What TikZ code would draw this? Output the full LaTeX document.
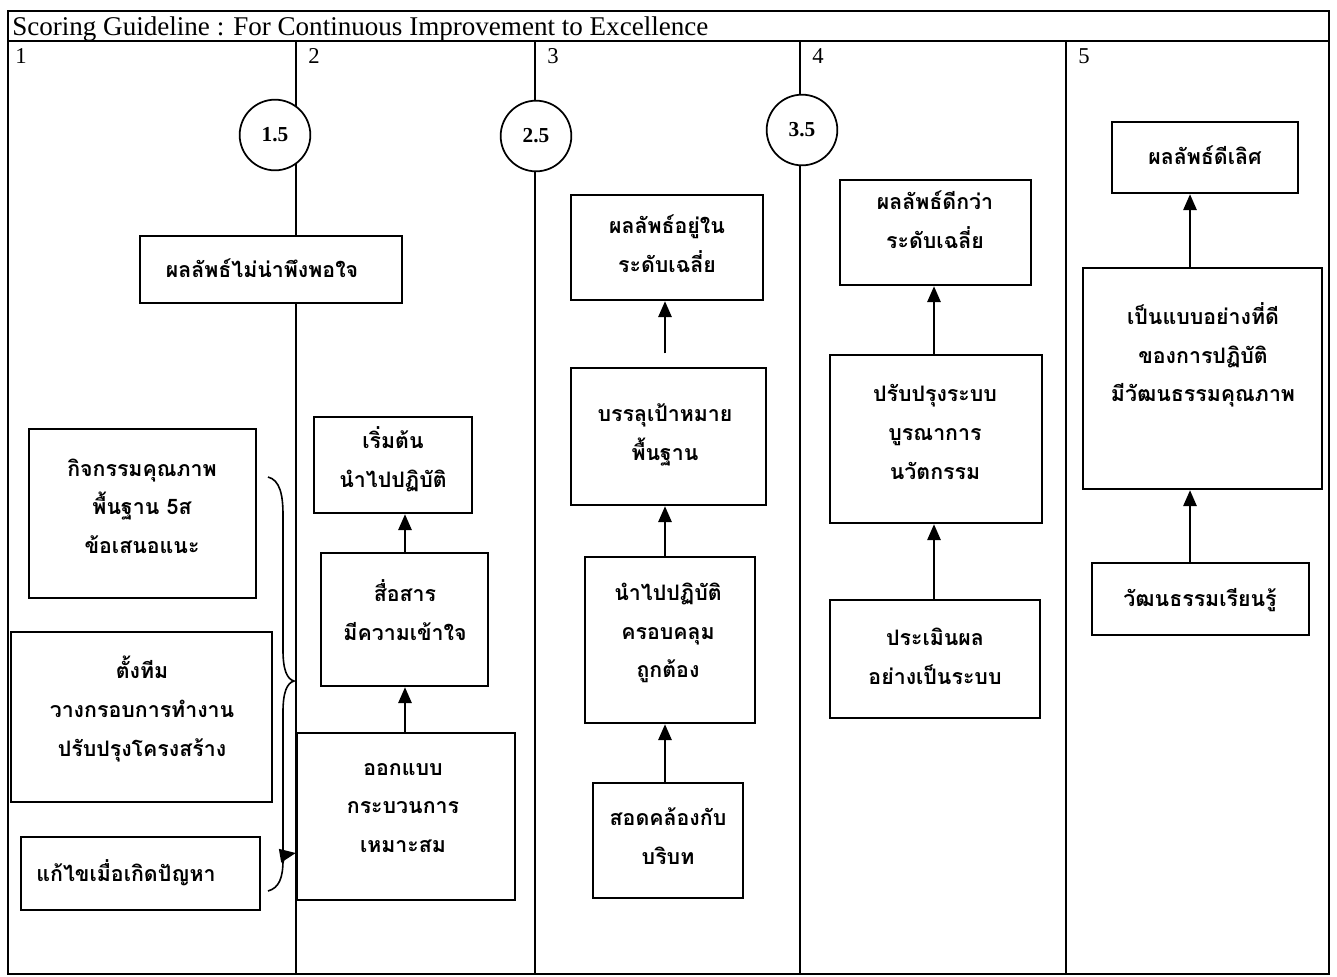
\documentclass[tikz,border=0pt]{standalone}
\usepackage{fontspec}
\setmainfont{Liberation Serif}
\newfontfamily\thai[Script=Thai]{Loma}
\usetikzlibrary{arrows.meta,fit}
\begin{document}
\begin{tikzpicture}[x=0.75pt,y=-0.75pt,
  box/.style={draw, line width=1.8pt, fill=white, inner sep=0pt},
  th/.style={font=\thai\bfseries\fontsize{16}{29}\selectfont, align=center, inner sep=0pt},
  circ/.style={draw, circle, line width=1.3pt, fill=white, minimum size=53pt, inner sep=0pt, font=\fontsize{16}{18}\selectfont\bfseries},
  arr/.style={line width=1.6pt, -{Triangle[length=12pt,width=10pt]}},
  colline/.style={line width=0.8pt},
  num/.style={font=\fontsize{17}{20}\selectfont, anchor=base west, inner sep=0pt}]
\useasboundingbox (0,0) rectangle (1337,976);
\fill[white] (0,0) rectangle (1337,976);
% frame
\draw[line width=1.1pt] (8,11) rectangle (1329,974);
\draw[line width=1.1pt] (8,41) -- (1329,41);
\node[anchor=base west, font=\fontsize{20.3}{24}\selectfont, inner sep=0pt] (title) at (12,35) {Scoring Guideline : For Continuous Improvement to Excellence};
% column lines
\foreach \x in {296,535,800,1066} \draw[colline] (\x,41) -- (\x,974);
\node[num] (n1) at (15,63) {1};
\node[num] (n2) at (308,63) {2};
\node[num] (n3) at (547,63) {3};
\node[num] (n4) at (812,63) {4};
\node[num] (n5) at (1078,63) {5};
% circles
\node[circ] (c15) at (275,135) {1.5};
\node[circ] (c25) at (536,136) {2.5};
\node[circ] (c35) at (802,130) {3.5};
% column 1
\node[box, fit={(140,236) (402,303)}] (b1) {};
\node[th] (t1) at (262,268) {ผลลัพธ์ไม่น่าพึงพอใจ};
\node[box, fit={(29,429) (256,598)}] (b2) {};
\node[th] (t2) at (142,506) {กิจกรรมคุณภาพ\\พื้นฐาน 5ส\\ข้อเสนอแนะ};
\node[box, fit={(11,632) (272,802)}] (b3) {};
\node[th] (t3) at (142,709) {ตั้งทีม\\วางกรอบการทำงาน\\ปรับปรุงโครงสร้าง};
\node[box, fit={(21,837) (260,910)}] (b4) {};
\node[th] (t4) at (126,873) {แก้ไขเมื่อเกิดปัญหา};
% column 2
\node[box, fit={(314,417) (472,513)}] (b5) {};
\node[th] (t5) at (393,459) {เริ่มต้น\\นำไปปฏิบัติ};
\node[box, fit={(321,553) (488,686)}] (b6) {};
\node[th] (t6) at (405,610) {สื่อสาร\\มีความเข้าใจ};
\node[box, fit={(297,733) (515,900)}] (b7) {};
\node[th] (t7) at (403,808) {ออกแบบ\\กระบวนการ\\เหมาะสม};
% column 3
\node[box, fit={(571,195) (763,300)}] (b8) {};
\node[th] (t8) at (667,244) {ผลลัพธ์อยู่ใน\\ระดับเฉลี่ย};
\node[box, fit={(571,368) (766,505)}] (b9) {};
\node[th] (t9) at (665,435) {บรรลุเป้าหมาย\\พื้นฐาน};
\node[box, fit={(585,557) (755,723)}] (b10) {};
\node[th] (t10) at (668,633) {นำไปปฏิบัติ\\ครอบคลุม\\ถูกต้อง};
\node[box, fit={(593,783) (743,898)}] (b11) {};
\node[th] (t11) at (668,836) {สอดคล้องกับ\\บริบท};
% column 4
\node[box, fit={(840,180) (1031,285)}] (b12) {};
\node[th] (t12) at (935,220) {ผลลัพธ์ดีกว่า\\ระดับเฉลี่ย};
\node[box, fit={(830,355) (1042,523)}] (b13) {};
\node[th] (t13) at (935,432) {ปรับปรุงระบบ\\บูรณาการ\\นวัตกรรม};
\node[box, fit={(830,600) (1040,718)}] (b14) {};
\node[th] (t14) at (935,656) {ประเมินผล\\อย่างเป็นระบบ};
% column 5
\node[box, fit={(1112,122) (1298,193)}] (b15) {};
\node[th] (t15) at (1205,155) {ผลลัพธ์ดีเลิศ};
\node[box, fit={(1083,268) (1322,489)}] (b16) {};
\node[th] (t16) at (1203,355) {เป็นแบบอย่างที่ดี\\ของการปฏิบัติ\\มีวัฒนธรรมคุณภาพ};
\node[box, fit={(1092,563) (1309,635)}] (b17) {};
\node[th] (t17) at (1200,600) {วัฒนธรรมเรียนรู้};
% arrow columns
\coordinate (x2) at (405,0);
\coordinate (x3) at (665,0);
\coordinate (x4) at (934,0);
\coordinate (x5) at (1190,0);
\draw[arr] (b7.north -| x2) -- (b6.south -| x2);
\draw[arr] (b6.north -| x2) -- (b5.south -| x2);
\draw[arr] (b11.north -| x3) -- (b10.south -| x3);
\draw[arr] (b10.north -| x3) -- (b9.south -| x3);
\draw[arr] ([yshift=10pt]b9.north -| x3) -- (b8.south -| x3);
\draw[arr] (b14.north -| x4) -- (b13.south -| x4);
\draw[arr] (b13.north -| x4) -- (b12.south -| x4);
\draw[arr] (b17.north -| x5) -- (b16.south -| x5);
\draw[arr] (b16.north -| x5) -- (b15.south -| x5);
% brace
\draw[line width=1.2pt] (268,477) .. controls (280,480) and (283,495) .. (283,515) -- (283,650)
  .. controls (283,670) and (287,679) .. (294,681)
  .. controls (287,683) and (283,692) .. (283,712) -- (283,860)
  .. controls (283,878) and (279,888) .. (268,891);
\coordinate (bra) at (283,862);
\draw[arr] (bra) .. controls (284,855) .. (b7.west |- 0,853);
\end{tikzpicture}
\end{document}
